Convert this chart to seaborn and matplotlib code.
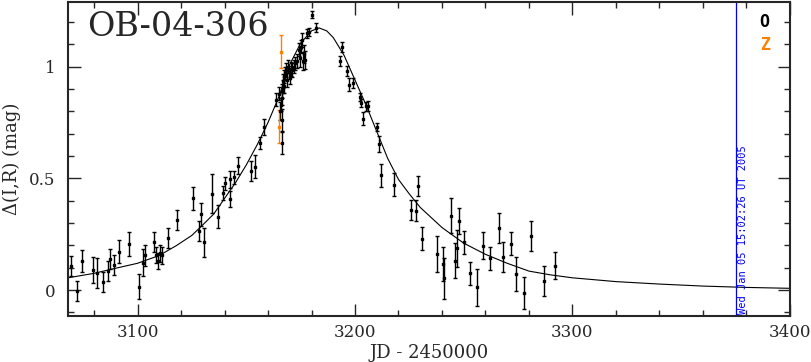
import numpy as np
import pandas as pd
import seaborn as sns
import matplotlib
matplotlib.use('Agg')
import matplotlib.pyplot as plt
from matplotlib.ticker import MultipleLocator

sns.set_style('ticks')
plt.rcParams['font.family'] = ['DejaVu Serif']

# O band photometry (JD-2450000, delta mag, error)
o_day = [3069.2, 3072.3, 3074.6, 3079.4, 3081.5, 3084.2, 3086.4, 3087.3, 3089.1, 3091.3,
         3096.2, 3100.5, 3102.6, 3103.5, 3107.5, 3108.6, 3109.3, 3110.2, 3111.3, 3114.2,
         3118.3, 3125.3, 3128.2, 3129.3, 3130.5, 3134.3, 3137.1, 3139.2, 3140.4, 3142.3,
         3142.4, 3144.2, 3146.2, 3152.3, 3154.1, 3156.1, 3158.1,
         3163.8, 3164.9, 3165.6, 3165.9, 3166.2, 3166.3, 3166.4, 3166.5, 3166.7, 3166.9,
         3167.2, 3167.5, 3168.0, 3168.4, 3168.8, 3169.0, 3169.5, 3169.9, 3170.5, 3171.2,
         3171.8, 3172.5, 3173.3, 3174.1, 3174.5, 3175.0, 3175.6, 3176.0, 3176.4, 3177.2,
         3178.0, 3178.8, 3180.2, 3182.0,
         3193.2, 3194.0, 3196.3, 3197.1, 3199.1, 3202.1, 3202.9, 3203.9, 3205.0, 3205.9,
         3210.1, 3211.0, 3211.9, 3217.9, 3225.9, 3228.0, 3228.9, 3230.9, 3237.9, 3240.4,
         3240.7, 3244.1, 3245.9, 3247.0, 3247.9, 3249.9, 3253.0, 3255.9, 3258.8, 3261.9,
         3266.0, 3268.0, 3271.8, 3274.0, 3277.9, 3280.9, 3286.9, 3291.9]
o_mag = [0.109, -0.005, 0.131, 0.090, 0.078, 0.037, 0.085, 0.138, 0.111, 0.172,
         0.206, 0.015, 0.122, 0.155, 0.215, 0.158, 0.131, 0.164, 0.155, 0.232,
         0.314, 0.411, 0.266, 0.339, 0.215, 0.432, 0.329, 0.434, 0.478, 0.407,
         0.496, 0.504, 0.557, 0.532, 0.552, 0.658, 0.729,
         0.852, 0.879, 0.800, 0.830, 0.860, 0.658, 0.760, 0.890, 0.910, 0.935,
         0.912, 0.955, 0.970, 0.985, 0.940, 1.000, 0.975, 0.950, 0.990, 0.985,
         1.000, 1.015, 1.025, 1.076, 1.040, 1.090, 1.120, 1.024, 1.055, 1.030,
         1.150, 1.155, 1.233, 1.173,
         1.024, 1.088, 0.979, 0.919, 0.927, 0.864, 0.837, 0.767, 0.822, 0.822,
         0.728, 0.653, 0.513, 0.472, 0.359, 0.356, 0.466, 0.230, 0.161, 0.117,
         0.052, 0.333, 0.131, 0.187, 0.309, 0.214, 0.075, 0.012, 0.199, 0.143,
         0.277, 0.149, 0.208, 0.073, -0.013, 0.242, 0.042, 0.109]
o_err = [0.045, 0.045, 0.050, 0.057, 0.067, 0.045, 0.045, 0.045, 0.045, 0.050,
         0.052, 0.057, 0.060, 0.045, 0.045, 0.037, 0.037, 0.037, 0.037, 0.045,
         0.045, 0.052, 0.045, 0.050, 0.065, 0.088, 0.052, 0.030, 0.030, 0.037,
         0.037, 0.030, 0.037, 0.045, 0.052, 0.027, 0.037,
         0.030, 0.030, 0.040, 0.030, 0.030, 0.050, 0.050, 0.030, 0.030, 0.030,
         0.030, 0.030, 0.030, 0.030, 0.030, 0.030, 0.030, 0.030, 0.030, 0.030,
         0.030, 0.030, 0.030, 0.030, 0.040, 0.030, 0.030, 0.040, 0.040, 0.040,
         0.020, 0.020, 0.015, 0.020,
         0.022, 0.022, 0.022, 0.030, 0.022, 0.018, 0.018, 0.030, 0.020, 0.022,
         0.018, 0.037, 0.052, 0.052, 0.045, 0.048, 0.045, 0.052, 0.082, 0.075,
         0.093, 0.078, 0.078, 0.082, 0.060, 0.052, 0.052, 0.082, 0.060, 0.052,
         0.068, 0.068, 0.052, 0.075, 0.072, 0.068, 0.068, 0.060]

# Z band photometry
z_day = [3165.2, 3166.1]
z_mag = [0.732, 1.067]
z_err = [0.072, 0.075]

# model light curve
model_day = [3068, 3080, 3090, 3100, 3110, 3118, 3125, 3130, 3135, 3140, 3145, 3150,
             3155, 3160, 3165, 3170, 3175, 3180, 3183.5, 3187, 3190, 3195, 3200, 3205,
             3210, 3215, 3220, 3225, 3230, 3240, 3250, 3260, 3270, 3280, 3290, 3300,
             3320, 3340, 3360, 3380, 3400]
model_mag = [0.055, 0.075, 0.098, 0.120, 0.155, 0.200, 0.245, 0.292, 0.340, 0.410, 0.480, 0.560,
             0.650, 0.750, 0.865, 1.010, 1.105, 1.160, 1.173, 1.160, 1.130, 1.050, 0.940, 0.830,
             0.710, 0.590, 0.495, 0.430, 0.370, 0.280, 0.210, 0.160, 0.120, 0.085, 0.068, 0.055,
             0.038, 0.027, 0.018, 0.012, 0.008]

obs_date = 3375
obs_label = 'Wed Jan 05 15:02:26 UT 2005'

model = pd.DataFrame({'day': model_day, 'mag': model_mag})

fig = plt.figure(figsize=(8.11, 3.62), dpi=100)
ax = fig.add_axes([0.0838, 0.127, 0.8902, 0.868])

sns.lineplot(data=model, x='day', y='mag', color='black', lw=0.8, ax=ax)
ax.errorbar(o_day, o_mag, yerr=o_err, fmt='s', color='black', ms=2,
            elinewidth=1.0, capsize=1.5, capthick=1.0)
ax.errorbar(z_day, z_mag, yerr=z_err, fmt='s', color='#ff8000', ms=2,
            elinewidth=1.0, capsize=1.5, capthick=1.0)

ax.axvline(obs_date, color='#0000ff', lw=0.9)
ax.text(obs_date + 1.2, -0.108, obs_label, rotation=90, color='#0000ff',
        fontsize=7.5, family='DejaVu Sans Mono', ha='left', va='bottom')

ax.text(0.026, 0.97, 'OB-04-306', transform=ax.transAxes, fontsize=24,
        ha='left', va='top')
ax.text(0.965, 0.965, 'O', transform=ax.transAxes, fontsize=12, ha='center', va='top',
        color='black', family='DejaVu Sans Mono', fontweight='bold')
ax.text(0.965, 0.89, 'Z', transform=ax.transAxes, fontsize=12, ha='center', va='top',
        color='#ff8000', family='DejaVu Sans Mono', fontweight='bold')

ax.set_xlim(3068, 3400)
ax.set_ylim(-0.116, 1.29)
ax.xaxis.set_major_locator(MultipleLocator(100))
ax.xaxis.set_minor_locator(MultipleLocator(20))
ax.yaxis.set_major_locator(MultipleLocator(0.5))
ax.yaxis.set_minor_locator(MultipleLocator(0.1))
ax.set_yticklabels([], minor=True)
ax.yaxis.set_major_formatter(plt.FuncFormatter(lambda v, p: f'{v:g}'))
ax.tick_params(which='both', direction='in', top=True, right=True, labelsize=12, width=1)
ax.tick_params(which='major', length=9, pad=6)
ax.tick_params(axis='y', which='major', pad=9)
ax.tick_params(which='minor', length=4.5)
for s in ax.spines.values():
    s.set_linewidth(1.5)

ax.set_xlabel('JD - 2450000', fontsize=13, labelpad=2)
ax.set_ylabel('Δ(I,R) (mag)', fontsize=13, labelpad=6)

fig.savefig('out.png', dpi=100)
